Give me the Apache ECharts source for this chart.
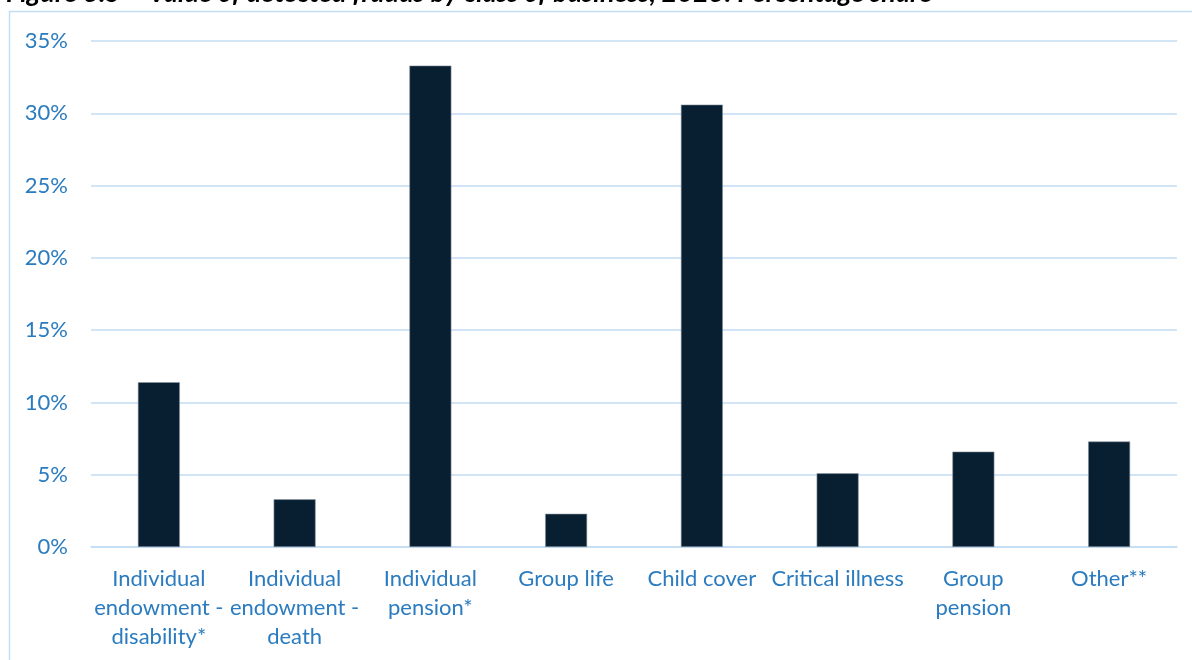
<!DOCTYPE html>
<html>
<head>
<meta charset="utf-8">
<style>
  html, body { margin: 0; padding: 0; background: #ffffff; }
  #chart { width: 1192px; height: 660px; }
</style>
<script src="https://cdn.jsdelivr.net/npm/echarts@6/dist/echarts.min.js"></script>
</head>
<body>
<div id="chart"></div>
<script>
// Class of business (line breaks as they wrap under each bar)
const categories = [
  'Individual\nendowment -\ndisability*',
  'Individual\nendowment -\ndeath',
  'Individual\npension*',
  'Group life',
  'Child cover',
  'Critical illness',
  'Group\npension',
  'Other**'
];
// Share of the value of detected frauds, %
const shares = [11.4, 3.3, 33.3, 2.3, 30.6, 5.1, 6.6, 7.3];
// Value axis ticks, %
const yTicks = [0, 5, 10, 15, 20, 25, 30, 35];

const titleText = 'Figure 3.5 \u2013 Value of detected frauds by class of business, 2023: Percentage share';
const labelBlue = '#2a7bbf';
const gridBlue = '#c2ddf5';
const font = 'Lato, "Open Sans", sans-serif';

const chart = echarts.init(document.getElementById('chart'), null, { renderer: 'canvas' });
chart.setOption({
  animation: false,
  backgroundColor: '#ffffff',
  graphic: [
    {
      type: 'rect',
      silent: true,
      shape: { x: 9.5, y: 11.5, width: 1300, height: 800 },
      style: { fill: 'none', stroke: gridBlue, lineWidth: 1.5 },
      z: 0
    },
    {
      type: 'text',
      silent: true,
      left: 6,
      top: -20,
      style: {
        text: titleText,
        font: 'italic bold 27px ' + font,
        fill: '#000000'
      },
      z: 10
    }
  ],
  grid: { left: 91, right: 15, top: 41, bottom: 113, containLabel: false },
  xAxis: {
    type: 'category',
    data: categories,
    axisLine: { show: true, lineStyle: { color: gridBlue, width: 1.5 } },
    axisTick: { show: false },
    axisLabel: {
      interval: 0,
      margin: 17,
      color: labelBlue,
      fontFamily: font,
      fontSize: 22,
      lineHeight: 29,
      align: 'center'
    }
  },
  yAxis: {
    type: 'value',
    min: yTicks[0],
    max: yTicks[yTicks.length - 1],
    interval: yTicks[1] - yTicks[0],
    axisLine: { show: false },
    axisTick: { show: false },
    splitLine: { show: true, lineStyle: { color: gridBlue, width: 1.5 } },
    axisLabel: {
      margin: 23,
      color: labelBlue,
      fontFamily: font,
      fontSize: 22,
      formatter: v => v + '%'
    }
  },
  series: [
    {
      type: 'bar',
      data: shares,
      barWidth: 42,
      itemStyle: { color: '#081e31', borderColor: '#8d99a5', borderWidth: 0.6 }
    }
  ]
});
</script>
</body>
</html>
